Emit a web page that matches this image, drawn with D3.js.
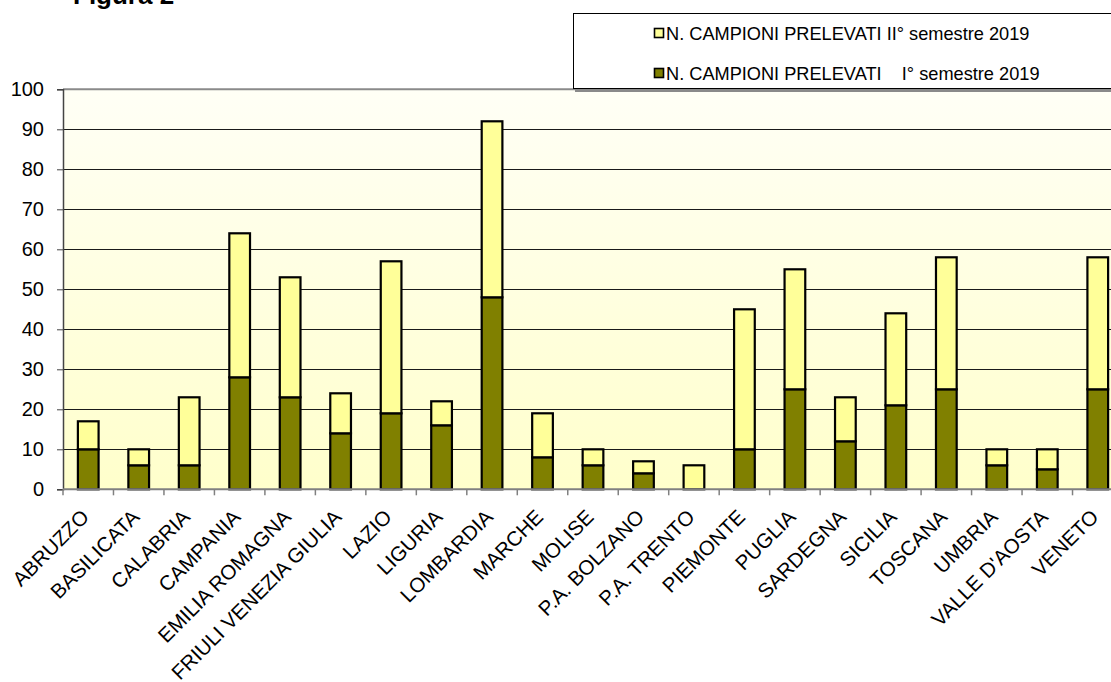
<!DOCTYPE html>
<html><head><meta charset="utf-8">
<script src="https://cdn.jsdelivr.net/npm/d3@7"></script>
<style>body{margin:0;background:#fff;overflow:hidden}svg{display:block;font-family:"Liberation Sans",Arial,sans-serif}</style>
</head><body>
<svg id="c" width="1111" height="682"></svg>
<script>
const categories = ["ABRUZZO","BASILICATA","CALABRIA","CAMPANIA","EMILIA ROMAGNA","FRIULI VENEZIA GIULIA","LAZIO","LIGURIA","LOMBARDIA","MARCHE","MOLISE","P.A. BOLZANO","P.A. TRENTO","PIEMONTE","PUGLIA","SARDEGNA","SICILIA","TOSCANA","UMBRIA","VALLE D'AOSTA","VENETO"];
const sem1 = [10,6,6,28,23,14,19,16,48,8,6,4,0,10,25,12,21,25,6,5,25];
const sem2 = [7,4,17,36,30,10,38,6,44,11,4,3,6,35,30,11,23,33,4,5,33];
const yTicks = [0,10,20,30,40,50,60,70,80,90,100];
const seriesNames = ["N. CAMPIONI PRELEVATI    I° semestre 2019","N. CAMPIONI PRELEVATI II° semestre 2019"];
const colors = ["#808000","#FFFF99"];

(function(){
const svg = d3.select("#c");
const pL = 63, pR = 1123, pT = 89.3, pB = 489.3;
const x = d3.scaleBand().domain(categories).range([pL, pR]).paddingInner(0.59).paddingOuter(0.295);
const y = d3.scaleLinear().domain([0,100]).range([pB, pT]);

const defs = svg.append("defs");
const grad = defs.append("linearGradient").attr("id","bg").attr("x1",0).attr("y1",0).attr("x2",0).attr("y2",1);
grad.append("stop").attr("offset","0%").attr("stop-color","#FFFFF6");
grad.append("stop").attr("offset","100%").attr("stop-color","#FFFFCB");

svg.append("rect").attr("x",pL).attr("y",pT).attr("width",pR-pL).attr("height",pB-pT).attr("fill","url(#bg)");

svg.append("g").selectAll("line").data(yTicks.filter(d=>d>0 && d<100)).join("line")
  .attr("x1",pL).attr("x2",pR).attr("y1",d=>Math.round(y(d))+0.5).attr("y2",d=>Math.round(y(d))+0.5)
  .attr("stroke","#1a1a1a").attr("stroke-width",1.2);
svg.append("line").attr("x1",pL).attr("x2",pR).attr("y1",pT).attr("y2",pT).attr("stroke","#8a8a8a").attr("stroke-width",2);

const stack = d3.stack().keys([0,1]).value((d,k)=>k===0?sem1[d]:sem2[d]);
const stacked = stack(d3.range(categories.length));
svg.append("g").selectAll("g").data(stacked).join("g").attr("fill",(d,i)=>colors[i])
  .selectAll("rect").data(d=>d).join("rect")
  .attr("x",(d,i)=>x(categories[i]))
  .attr("width",x.bandwidth())
  .attr("y",d=>y(d[1]))
  .attr("height",d=>y(d[0])-y(d[1]))
  .attr("stroke",d=>(d[1]-d[0])>0?"#000":"none").attr("stroke-width",2.2);

const yAxis = d3.axisLeft(y).tickValues(yTicks).tickSize(6).tickPadding(13);
const ya = svg.append("g").attr("transform",`translate(${pL},0)`).call(yAxis);
ya.select(".domain").attr("stroke","#444").attr("stroke-width",1.5);
ya.selectAll(".tick line").attr("stroke","#444");
ya.selectAll("text").attr("font-size",20).attr("fill","#000").attr("font-family","'Liberation Sans',Arial,sans-serif");

const xa = svg.append("g").attr("transform",`translate(0,${pB})`);
xa.append("line").attr("x1",pL).attr("x2",pR).attr("y1",0).attr("y2",0).attr("stroke","#808080").attr("stroke-width",2);
const bounds = d3.range(categories.length+1).map(i=>pL+(pR-pL)*i/categories.length);
xa.selectAll(".tk").data(bounds).join("line").attr("class","tk")
  .attr("x1",d=>d).attr("x2",d=>d).attr("y1",0).attr("y2",6).attr("stroke","#808080").attr("stroke-width",1.5);
xa.selectAll(".lbl").data(categories).join("text").attr("class","lbl")
  .attr("transform",d=>`translate(${x(d)+x.bandwidth()/2+2},${29}) rotate(-45)`)
  .attr("text-anchor","end").attr("font-size",20.5).attr("fill","#000").text(d=>d);

svg.append("text").attr("x",73).attr("y",4).attr("font-size",26).attr("font-weight","bold").text("Figura 2");

const lg = svg.append("g");
lg.append("rect").attr("x",575).attr("y",15).attr("width",560).attr("height",77).attr("fill","#8a8a8a");
lg.append("rect").attr("x",573.5).attr("y",13.5).attr("width",560).attr("height",75).attr("fill","#fff").attr("stroke","#000").attr("stroke-width",1);
const legendItems = [{name:seriesNames[1],color:colors[1],y:33},{name:seriesNames[0],color:colors[0],y:73}];
legendItems.forEach(it=>{
  lg.append("rect").attr("x",654.5).attr("y",it.y-4.5).attr("width",9).attr("height",9).attr("fill",it.color).attr("stroke","#000").attr("stroke-width",1.6);
  lg.append("text").attr("x",666).attr("y",it.y+6.5).attr("font-size",18.2).style("white-space","pre").text(it.name);
});
})();
</script>
</body></html>
